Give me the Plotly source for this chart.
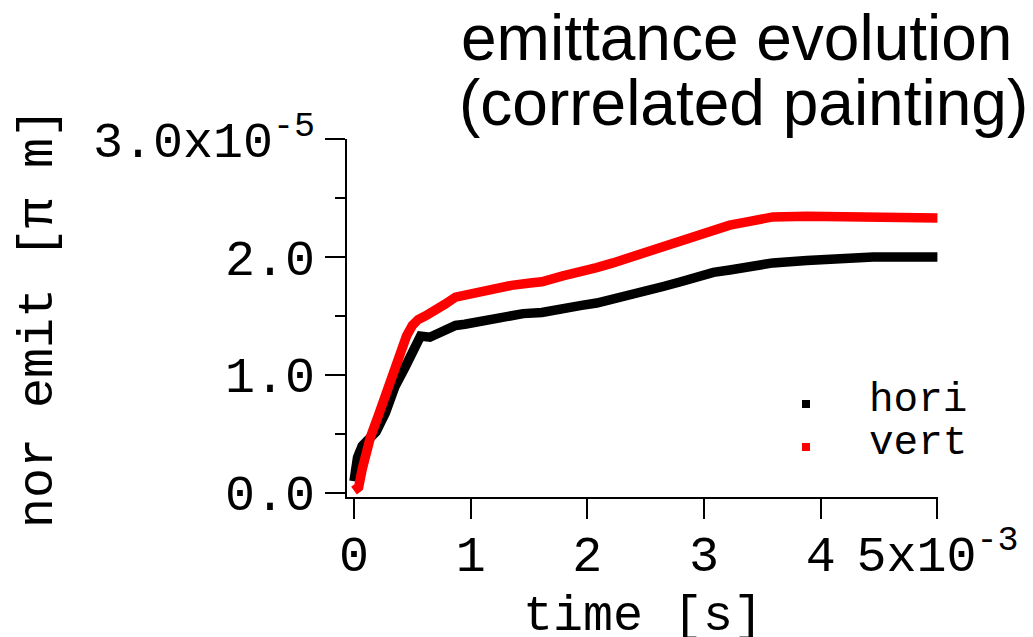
import numpy as np
import plotly.graph_objects as go

# time in ms (x10^-3 s), emittance in x10^-5 pi m
t_hori = [0.00, 0.03, 0.07, 0.12, 0.19, 0.27, 0.35, 0.44, 0.50, 0.54, 0.57, 0.65, 0.70, 0.75,
          0.80, 0.87, 0.95, 1.06, 1.17, 1.29, 1.45, 1.61, 1.79, 1.95, 2.08, 2.22, 2.37, 2.50,
          2.65, 2.80, 2.94, 3.08, 3.22, 3.38, 3.59, 3.88, 4.16, 4.45, 4.75, 5.00]
e_hori = [0.10, 0.30, 0.40, 0.46, 0.52, 0.68, 0.90, 1.07, 1.20, 1.30, 1.33, 1.32, 1.34, 1.37,
          1.38, 1.42, 1.43, 1.45, 1.47, 1.50, 1.52, 1.53, 1.57, 1.59, 1.61, 1.64, 1.68, 1.71,
          1.75, 1.79, 1.84, 1.87, 1.89, 1.92, 1.95, 1.97, 1.99, 2.00, 2.00, 2.00]

t_vert = [0.00, 0.04, 0.07, 0.10, 0.14, 0.21, 0.29, 0.38, 0.45, 0.50, 0.55, 0.61, 0.69, 0.78,
          0.87, 1.01, 1.15, 1.35, 1.51, 1.61, 1.79, 1.95, 2.08, 2.22, 2.37, 2.50, 2.65, 2.80,
          2.94, 3.08, 3.22, 3.38, 3.59, 3.88, 4.16, 4.45, 4.75, 5.00]
e_vert = [0.02, 0.05, 0.20, 0.35, 0.47, 0.66, 0.90, 1.16, 1.33, 1.42, 1.47, 1.50, 1.54, 1.60,
          1.66, 1.69, 1.73, 1.76, 1.78, 1.79, 1.84, 1.87, 1.91, 1.95, 2.00, 2.04, 2.09, 2.14,
          2.19, 2.23, 2.27, 2.30, 2.34, 2.345, 2.345, 2.345, 2.34, 2.33]

x_tickvals = [0, 1, 2, 3, 4, 5]
x_ticktext = ["0", "1", "2", "3", "4", "5x10<sup>-3</sup>"]
y_tickvals = [0.0, 1.0, 2.0, 3.0]
y_ticktext = ["0.0", "1.0", "2.0", "3.0x10<sup>-5</sup>"]

XS, YS = 1e-3, 1e-5
MONO = "Liberation Mono"

fig = go.Figure()
fig.add_trace(go.Scatter(x=np.array(t_hori) * XS, y=np.array(e_hori) * YS, mode="lines",
                         line=dict(color="black", width=9.5), name="hori", showlegend=False))
fig.add_trace(go.Scatter(x=np.array(t_vert) * XS, y=np.array(e_vert) * YS, mode="lines",
                         line=dict(color="red", width=9.5), name="vert", showlegend=False))

W, H = 1033, 637
L, R, T, B = 347, 95, 139, 140
pw, ph = W - L - R, H - T - B

def px(xp):
    return (xp - L) / pw

def py(yp):
    return (H - B - yp) / ph

axis_common = dict(showline=True, linecolor="black", linewidth=2, ticks="outside",
                   ticklen=20, tickwidth=2, tickcolor="black", showgrid=False,
                   zeroline=False, tickmode="array",
                   tickfont=dict(family=MONO, size=50, color="black"))

fig.update_xaxes(range=[-0.06 * XS, 5.005 * XS],
                 tickvals=[v * XS for v in x_tickvals], ticktext=x_ticktext,
                 ticklabelstandoff=-8,
                 **axis_common)
fig.update_yaxes(range=[-0.034 * YS, 3.0 * YS],
                 tickvals=[v * YS for v in y_tickvals], ticktext=y_ticktext,
                 minor=dict(tickmode="linear", tick0=0, dtick=0.5 * YS, ticks="outside",
                            ticklen=10, tickwidth=2, tickcolor="black"),
                 title=dict(text="nor emit [π m]", font=dict(family=MONO, size=50, color="black"),
                            standoff=24),
                 **axis_common)

# x-axis title (placed below the tick labels, partly running off the bottom edge as in the original)
fig.add_annotation(text="time [s]", xref="paper", yref="paper", x=0.5, y=py(616),
                   xanchor="center", yanchor="middle", showarrow=False,
                   font=dict(family=MONO, size=50, color="black"))

# title as two text lines
fig.add_annotation(text="emittance evolution", xref="paper", yref="paper",
                   x=px(459), y=py(38), xanchor="left", yanchor="middle", showarrow=False,
                   font=dict(family="Liberation Sans", size=64, color="black"))
fig.add_annotation(text="(correlated painting)", xref="paper", yref="paper",
                   x=px(457), y=py(103), xanchor="left", yanchor="middle", showarrow=False,
                   font=dict(family="Liberation Sans", size=64, color="black"))

# legend
legend_items = [("hori", "black", 404), ("vert", "red", 447)]
for name, col, yc in legend_items:
    fig.add_shape(type="rect", xref="paper", yref="paper",
                  x0=px(802), x1=px(810), y0=py(yc + 4), y1=py(yc - 4),
                  fillcolor=col, line=dict(width=0))
    fig.add_annotation(text=name, xref="paper", yref="paper", x=px(867), y=py(yc - 4),
                       xanchor="left", yanchor="middle", showarrow=False,
                       font=dict(family=MONO, size=41, color="black"))

fig.update_layout(width=W, height=H, margin=dict(l=L, r=R, t=T, b=B, autoexpand=False),
                  paper_bgcolor="white", plot_bgcolor="white", showlegend=False)

fig.write_html("out.html")
